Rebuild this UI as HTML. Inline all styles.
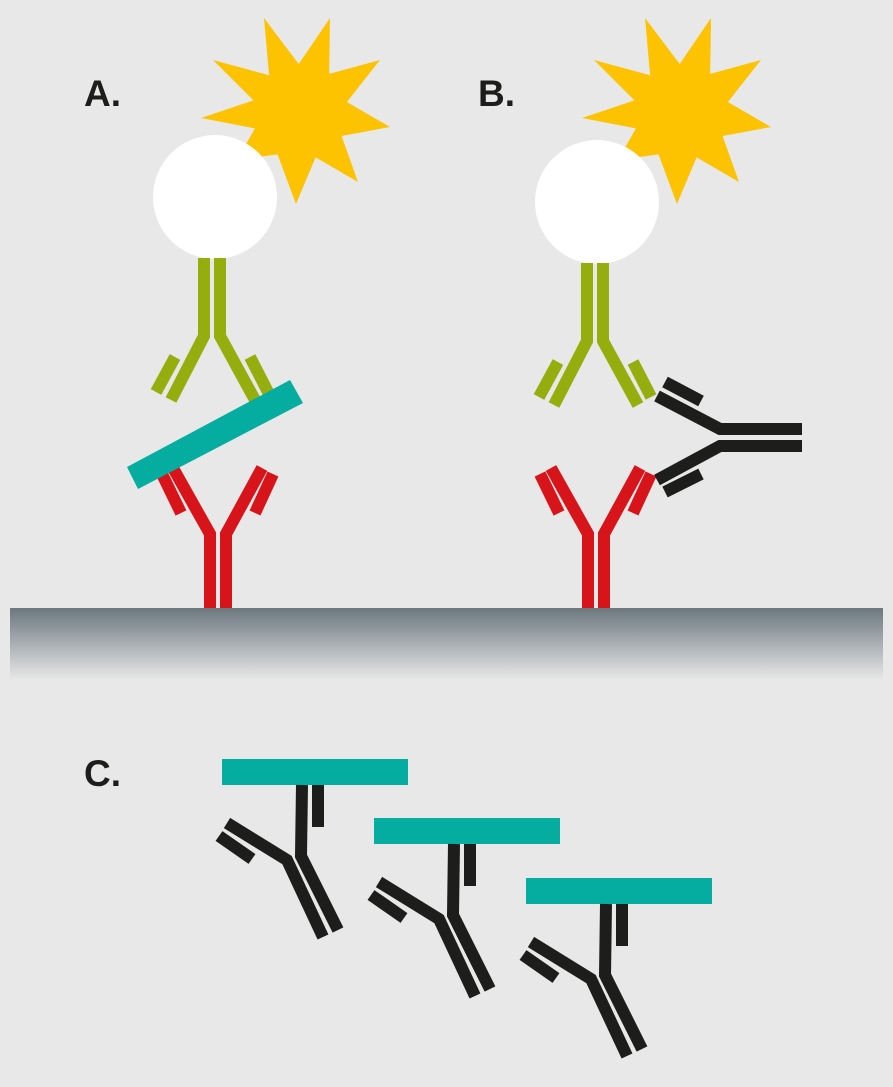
<!DOCTYPE html>
<html><head><meta charset="utf-8"><style>
html,body{margin:0;padding:0;background:#e8e8e8;}
svg{display:block}
text{font-family:"Liberation Sans",sans-serif;font-weight:bold;fill:#1d1d1b}
</style></head><body>
<svg width="893" height="1087" viewBox="0 0 893 1087" xmlns="http://www.w3.org/2000/svg">
<defs>
<linearGradient id="g" x1="0" y1="0" x2="0" y2="1">
<stop offset="0" stop-color="#6c777f"/>
<stop offset="1" stop-color="#e8e8e8"/>
</linearGradient>
<g id="star"><polygon fill="#fdc300" points="264,18 298.7,64 330,18 329.2,73.9 380,60 346.9,102 390,127 341.6,136 358,182 315.6,157.4 296,204 277.5,154.4 237,160 254.9,128.4 201,118 253.4,100.4 213,60 269.1,75.2"/></g>
<g id="green" fill="none" stroke="#96ad0e" stroke-width="12" stroke-linejoin="miter">
<polyline points="204,258 204,336 171,400"/>
<polyline points="220,258 220,336 255,400"/>
<line x1="175" y1="357" x2="156" y2="392"/>
<line x1="250" y1="357" x2="268" y2="392"/>
</g>
<g id="red" fill="none" stroke="#d7141a" stroke-width="12" stroke-linejoin="miter">
<polyline points="210,608 210,534 173,468"/>
<polyline points="226,608 226,534 262,468"/>
<line x1="162" y1="474" x2="181" y2="513"/>
<line x1="273" y1="474" x2="255" y2="513"/>
</g>
<g id="cab">
<rect x="222" y="759" width="186" height="26" fill="#05aca0"/>
<g fill="none" stroke="#1d1d1b" stroke-width="12" stroke-linejoin="miter">
<polyline points="227,823 287,860 323,937"/>
<polyline points="302,785 301,856 338,930"/>
<line x1="318" y1="785" x2="318" y2="827"/>
<line x1="219" y1="836" x2="252" y2="859"/>
</g>
</g>
</defs>
<rect width="893" height="1087" fill="#e8e8e8"/>
<rect x="10" y="608" width="873" height="72" fill="url(#g)"/>

<use href="#star"/>
<circle cx="215" cy="197" r="62" fill="#fff"/>
<use href="#green"/>
<use href="#red"/>
<polygon fill="#05aca0" points="127,467 290,380 303,403 138,489"/>

<use href="#star" transform="translate(381,0)"/>
<circle cx="597" cy="202" r="62" fill="#fff"/>
<use href="#green" transform="translate(383,5)"/>
<use href="#red" transform="translate(378,0)"/>
<g fill="none" stroke="#1d1d1b" stroke-width="12" stroke-linejoin="miter">
<polyline points="802,429 720,429 657,396"/>
<polyline points="802,446 720,446 657,480"/>
<line x1="665" y1="382" x2="701" y2="401"/>
<line x1="665" y1="492" x2="701" y2="474"/>
</g>

<use href="#cab"/>
<use href="#cab" transform="translate(152,59)"/>
<use href="#cab" transform="translate(304,119)"/>

<text x="84" y="106" font-size="37">A.</text>
<text x="478" y="106" font-size="37">B.</text>
<text x="84" y="786" font-size="37">C.</text>
</svg>
</body></html>
